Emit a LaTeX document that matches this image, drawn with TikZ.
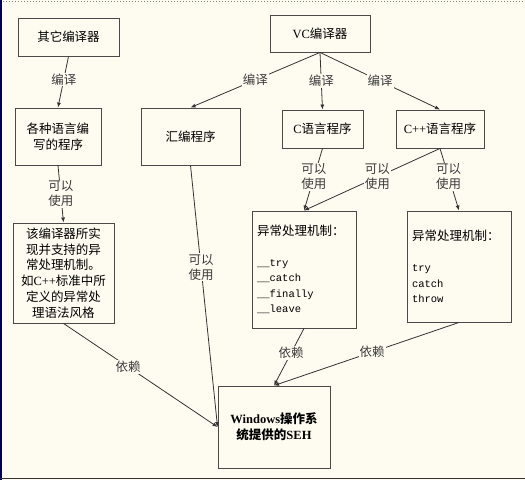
\documentclass[tikz,border=0pt]{standalone}
\usepackage{fontspec}
\setmainfont{Noto Sans CJK SC}
\setmonofont{Liberation Mono}
\newfontfamily\enfont{Liberation Serif}
\newcommand{\en}[1]{{\enfont #1}}
\newcommand{\code}[1]{{\ttfamily\fontsize{10.5}{15.5}\selectfont #1}}
\usetikzlibrary{arrows.meta}
\definecolor{bgcream}{HTML}{FEFCF1}
\definecolor{boxline}{HTML}{4A4A4A}
\definecolor{lblgray}{HTML}{3A3A3A}

\begin{document}
\begin{tikzpicture}[x=1pt,y=-1pt,
  box/.style={draw=boxline,line width=0.9pt,inner sep=0pt,align=center,
    font=\fontsize{12.5}{15.8}\selectfont},
  codebox/.style={box,align=left,inner xsep=5pt,font=\fontsize{12.5}{15.5}\selectfont},
  lbl/.style={fill=bgcream,inner sep=1pt,align=center,text=lblgray,
    font=\fontsize{12.5}{15}\selectfont},
  arr/.style={-{Latex[length=5pt,width=4pt]},draw=black!80,line width=0.8pt}]

  % page and frame
  \fill[bgcream] (0,0) rectangle (525,480);
  \useasboundingbox (0,0) rectangle (525,480);
  \draw[gray,dotted,line width=1pt] (0,1) -- (525,1);
  \draw[blue!30!black,line width=1.5pt] (1,0) -- (1,480);
  \draw[black!80,line width=1.5pt] (0,478.5) -- (525,478.5);

  % compilers
  \node[box,minimum width=101pt,minimum height=38pt] (other) at (68.5,37) {其它编译器};
  \node[box,minimum width=100pt,minimum height=37pt] (vc) at (320,33.5) {\en{VC}编译器};

  % programs
  \node[box,minimum width=86pt,minimum height=57pt] (prog) at (58,136.5) {各种语言编\\写的程序};
  \node[box,minimum width=99pt,minimum height=57pt] (asm) at (190.5,136.5) {汇编程序};
  \node[box,minimum width=81pt,minimum height=38pt] (cprog) at (322.5,129) {\en{C}语言程序};
  \node[box,minimum width=88pt,minimum height=38pt] (cppprog) at (440,129) {\en{C++}语言程序};

  % exception handling
  \node[box,minimum width=101pt,minimum height=100pt] (impl) at (63.5,273)
    {该编译器所实\\现并支持的异\\常处理机制。\\如\en{C++}标准中所\\定义的异常处\\理语法风格};
  \node[codebox,minimum width=104pt,minimum height=117pt,text width=94pt] (sehc) at (304,269.5)
    {异常处理机制：\\[15.5pt]\code{\_\_try}\\\code{\_\_catch}\\\code{\_\_finally}\\\code{\_\_leave}};
  \node[codebox,minimum width=104pt,minimum height=111pt,text width=94pt] (sehcpp) at (459,266.5)
    {异常处理机制：\\[15.5pt]\code{try}\\\code{catch}\\\code{throw}};

  \node[box,minimum width=112pt,minimum height=82pt,font=\fontsize{12.5}{15.8}\selectfont\bfseries] (win) at (274,427)
    {\en{Windows}操作系\\统提供的\en{SEH}};

  % compile
  \draw[arr] (other.south) -- node[lbl,pos=0.45] {编译} (prog.north);
  \draw[arr] (vc.south) -- node[lbl] {编译} (asm.north);
  \draw[arr] (vc.south) -- node[lbl] {编译} (cprog.north);
  \draw[arr] (vc.south) -- node[lbl] {编译} (cppprog.north);

  % can use
  \draw[arr] (prog.south) -- node[lbl] {可以\\使用} (impl.north);
  \draw[arr] (asm.south) -- node[lbl,pos=0.39] {可以\\使用} (win.west);
  \draw[arr] (cprog.south) -- node[lbl,pos=0.46] {可以\\使用} (sehc.north);
  \draw[arr] (cppprog.south) -- node[lbl,pos=0.46] {可以\\使用} (sehc.north);
  \draw[arr] (cppprog.south) -- node[lbl,pos=0.46] {可以\\使用} (sehcpp.north);

  % depends on
  \draw[arr] (impl.south) -- node[lbl,pos=0.42] {依赖} (win.west);
  \draw[arr] (sehc.south) -- node[lbl,pos=0.43] {依赖} (win.north);
  \draw[arr] (sehcpp.south) -- node[lbl,pos=0.47] {依赖} (win.north);

\end{tikzpicture}
\end{document}
